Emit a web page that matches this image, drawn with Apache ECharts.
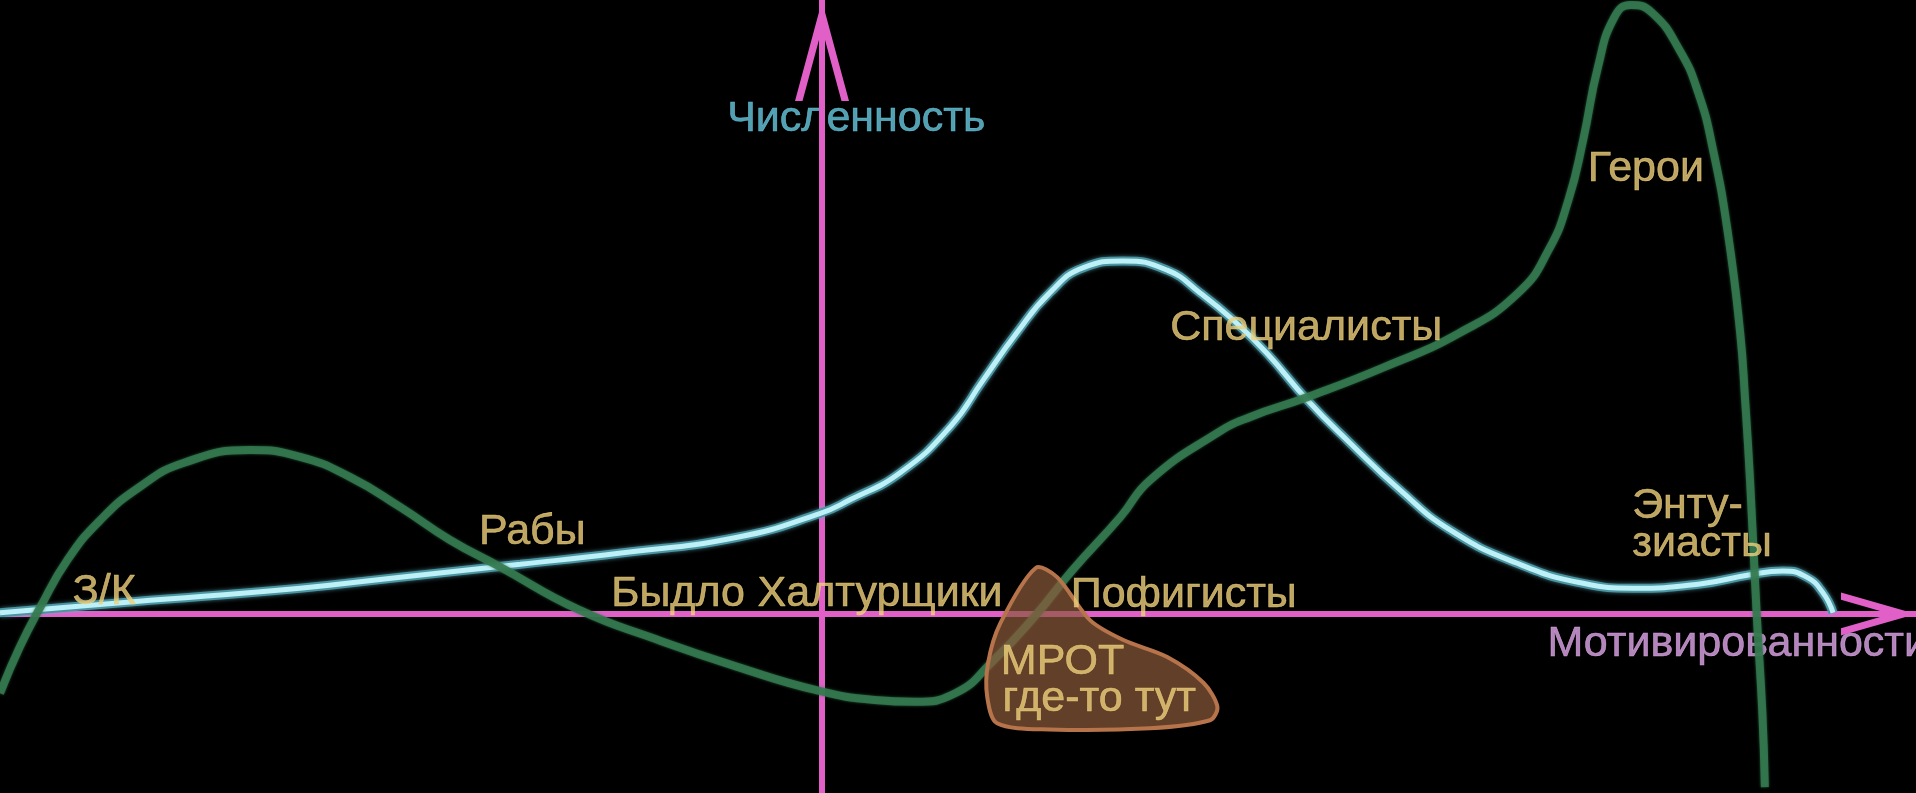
<!DOCTYPE html>
<html>
<head>
<meta charset="utf-8">
<script src="https://cdn.jsdelivr.net/npm/echarts/dist/echarts.min.js"></script>
<style>
html,body{margin:0;padding:0;background:#000;overflow:hidden;}
#chart{width:1916px;height:793px;}
</style>
</head>
<body>
<div id="chart"></div>
<script>
// Численность (cyan curve): x = мотивированность, y = численность
const cyanX = [-100, -83.8, -63.5, -51.3, -36.7, -24.7, -10.3, -0.2, 3.4, 9.5, 15.6, 19.6, 23.7, 27.7, 31.8, 36.6, 42.0, 46.0, 50.0, 54.1, 59.0, 64.2, 70.3, 76.4, 84.5, 92.6, 98.7, 106.8, 112.9, 116.9, 119.8, 121.8, 123.0];
const cyanY = [0.2, 2.0, 4.2, 6.0, 8.1, 9.9, 12.5, 16.4, 18.6, 23.0, 30.5, 38.1, 45.8, 52.3, 56.4, 57.5, 56.0, 52.3, 47.9, 42.5, 34.9, 27.9, 20.2, 13.7, 8.3, 5.0, 4.2, 4.9, 6.4, 7.0, 6.0, 3.4, 0.2];

// green curve
const greenX = [-100, -97.6, -95.1, -91.8, -87.8, -83.0, -77.7, -69.6, -63.5, -57.4, -51.3, -45.3, -39.2, -29.6, -20.0, -10.3, -0.7, 6.4, 11.3, 16.2, 20.9, 25.8, 30.5, 36.3, 39.9, 48.1, 52.1, 59.0, 68.4, 77.6, 84.7, 88.4, 90.8, 92.6, 94.4, 96.4, 98.4, 101.0, 104.3, 106.6, 108.4, 110.2, 111.7, 112.3, 112.9, 113.7, 114.4, 114.7];
const greenY = [-12.9, -5.4, 1.1, 8.8, 15.3, 20.7, 24.6, 26.7, 25.6, 22.3, 17.4, 12.1, 7.7, 0.7, -4.2, -8.6, -12.4, -14.0, -14.3, -12.9, -7.5, -0.5, 7.2, 15.8, 21.8, 29.5, 32.1, 35.3, 40.2, 45.8, 52.3, 59.3, 67.4, 77.2, 89.1, 97.2, 99.2, 97.9, 91.9, 84.9, 75.6, 62.1, 45.8, 34.9, 21.8, 0.2, -16.1, -28.2];

// МРОТ region outline
const blobX = [26.0, 28.6, 32.6, 36.6, 42.0, 46.4, 48.1, 47.2, 39.9, 27.7, 21.3, 20.1, 20.2, 21.7];
const blobY = [7.5, 6.0, -1.0, -4.2, -7.0, -11.2, -15.1, -17.3, -18.6, -18.8, -17.8, -13.5, -8.0, -1.5];

// group labels
const labelNames = ['З/К', 'Рабы', 'Быдло', 'Халтурщики', 'Пофигисты', 'МРОТ', 'где-то тут', 'Специалисты', 'Герои', 'Энту-', 'зиасты'];
const labelX = [-91.2, -41.8, -25.7, -7.9, 30.2, 21.7, 21.9, 42.3, 93.1, 98.5, 98.5];
const labelY = [3.6, 13.4, 3.3, 3.3, 3.1, -7.8, -13.9, 46.6, 72.4, 17.5, 11.4];

// axis titles
const axisTitleNames = ['Численность', 'Мотивированности'];
const axisTitleX = [-11.6, 88.2];
const axisTitleY = [80.6, -4.9];

const xMin = -100, xMax = 133.09, yMin = -29.15, yMax = 100;

const FONT = '"Liberation Sans", Arial, Helvetica, sans-serif';
const PINK = '#e060c8';
const GOLD = '#edd07a';

function zip(xs, ys) { return xs.map((x, i) => [x, ys[i]]); }

const chart = echarts.init(document.getElementById('chart'), null, {renderer: 'canvas'});

const arrowV = 'path://M27,0 L54,100 L46.5,100 L27,27.8 L7.5,100 L0,100 Z';
const arrowH = 'path://M21.5,0 L43,75 L35.7,75 L21.5,25.5 L7.3,75 L0,75 Z';

const option = {
  backgroundColor: '#000',
  animation: false,
  grid: {left: 0, right: 0, top: 0, bottom: 0, containLabel: false},
  xAxis: {
    type: 'value', min: xMin, max: xMax, z: 2,
    axisLine: {show: true, onZero: true, lineStyle: {color: PINK, width: 6},
      symbol: ['none', arrowH], symbolSize: [43, 75], symbolOffset: [0, -37.5]},
    axisTick: {show: false}, axisLabel: {show: false}, splitLine: {show: false}
  },
  yAxis: {
    type: 'value', min: yMin, max: yMax, z: 2,
    axisLine: {show: true, onZero: true, lineStyle: {color: PINK, width: 6},
      symbol: ['none', arrowV], symbolSize: [54, 100], symbolOffset: [0, -51]},
    axisTick: {show: false}, axisLabel: {show: false}, splitLine: {show: false}
  },
  series: [
    {
      type: 'scatter', z: 1, silent: true, symbolSize: 1,
      itemStyle: {color: 'rgba(0,0,0,0)'},
      data: axisTitleNames.map((n, i) => ({
        name: n, value: [axisTitleX[i], axisTitleY[i]],
        label: {color: i === 0 ? '#66c8de' : '#e0a8ea', textBorderColor: i === 0 ? '#66c8de' : '#e0a8ea'}
      })),
      label: {show: true, position: 'right', distance: 0, formatter: '{b}', fontSize: 43, fontFamily: FONT, textBorderWidth: 0.6}
    },
    {
      type: 'line', z: 3, silent: true, symbol: 'none', smooth: 0.5, clip: false,
      data: zip(cyanX, cyanY),
      lineStyle: {color: '#4a95a2', width: 9, shadowBlur: 4, shadowColor: 'rgba(110,190,205,0.6)'}
    },
    {
      type: 'line', z: 3, silent: true, symbol: 'none', smooth: 0.5, clip: false,
      data: zip(cyanX, cyanY),
      lineStyle: {color: '#bdf1f7', width: 5}
    },
    {
      type: 'line', z: 4, silent: true, symbol: 'none', smooth: 0.5, clip: false,
      data: zip(greenX, greenY),
      lineStyle: {color: '#347a50', width: 8, opacity: 0.88, shadowBlur: 3, shadowColor: 'rgba(52,122,80,0.8)'}
    },
    {
      type: 'custom', z: 5, silent: true, coordinateSystem: 'cartesian2d',
      data: [[blobX[0], blobY[0]]],
      renderItem: function (params, api) {
        const pts = blobX.map((x, i) => api.coord([x, blobY[i]]));
        return {
          type: 'polygon',
          shape: {points: pts, smooth: 0.3},
          style: {fill: 'rgba(140,90,58,0.7)', stroke: '#b7744a', lineWidth: 4}
        };
      }
    },
    {
      type: 'scatter', z: 6, silent: true, symbolSize: 1,
      itemStyle: {color: 'rgba(0,0,0,0)'},
      data: labelNames.map((n, i) => ({name: n, value: [labelX[i], labelY[i]]})),
      label: {show: true, position: 'right', distance: 0, formatter: '{b}', color: GOLD, fontSize: 43, fontFamily: FONT,
        textBorderColor: GOLD, textBorderWidth: 0.6}
    }
  ]
};
chart.setOption(option);
</script>
</body>
</html>
